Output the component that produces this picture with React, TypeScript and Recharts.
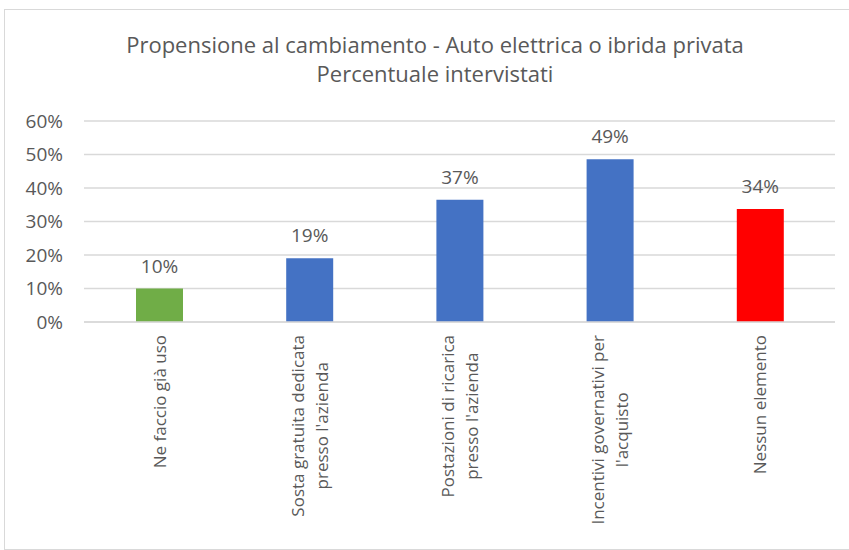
import React from "react";
import { BarChart, Bar, XAxis, YAxis, CartesianGrid, Cell, LabelList } from "recharts";

const categories = [
  "Ne faccio già uso",
  "Sosta gratuita dedicata\npresso l'azienda",
  "Postazioni di ricarica\npresso l'azienda",
  "Incentivi governativi per\nl'acquisto",
  "Nessun elemento",
];
const values = [0.10, 0.19, 0.365, 0.486, 0.337];
const barColors = ["#70AD47", "#4472C4", "#4472C4", "#4472C4", "#FF0000"];
const yTicks = [0, 0.1, 0.2, 0.3, 0.4, 0.5, 0.6];
const titleLines = ["Propensione al cambiamento - Auto elettrica o ibrida privata", "Percentuale intervistati"];

const FONT = "'Open Sans', 'Noto Sans', sans-serif";
const TEXT = "#595959";
const CAT_SIZE = 17;

const data = categories.map((c, i) => ({ name: c, value: values[i] }));

let ctx: CanvasRenderingContext2D | null = null;
function measure(s: string, size: number) {
  if (!ctx) {
    const c = document.createElement("canvas");
    ctx = c.getContext("2d");
  }
  if (!ctx) return s.length * size * 0.5;
  ctx.font = `${size}px 'Open Sans'`;
  return ctx.measureText(s).width;
}

const CatTick = (props: any) => {
  const { x, y, payload } = props;
  const lines = String(payload.value).split("\n");
  const maxLen = Math.max(...lines.map((l) => measure(l, CAT_SIZE)));
  const top = y + 13;
  const lh = 24;
  const n = lines.length;
  return (
    <g transform={`translate(${x},${top}) rotate(-90)`}>
      {lines.map((l, i) => (
        <text
          key={i}
          x={-maxLen / 2}
          y={(i - (n - 1) / 2) * lh}
          textAnchor="middle"
          dominantBaseline="central"
          fill={TEXT}
          fontSize={CAT_SIZE}
          fontFamily={FONT}
        >
          {l}
        </text>
      ))}
    </g>
  );
};

const pct = (v: number) => `${Math.round(v * 100)}%`;

export default function App() {
  return (
    <div style={{ position: "absolute", left: 0, top: 0, width: 849, height: 550, background: "#fff", overflow: "hidden" }}>
      <div
        style={{
          position: "absolute",
          left: 4,
          top: 9,
          width: 860,
          height: 541,
          border: "1px solid #d9d9d9",
          boxSizing: "border-box",
        }}
      />
      <div style={{ position: "absolute", left: 0, top: 0 }}>
        <BarChart
          width={849}
          height={550}
          data={data}
          margin={{ top: 121, right: 14, left: 0, bottom: 8 }}
        >
          <text x={435} y={53} textAnchor="middle" fill={TEXT} fontSize={22} fontFamily={FONT}>
            {titleLines[0]}
          </text>
          <text x={435} y={82} textAnchor="middle" fill={TEXT} fontSize={22} fontFamily={FONT}>
            {titleLines[1]}
          </text>
          <CartesianGrid vertical={false} stroke="#d9d9d9" strokeWidth={1.5} />
          <XAxis
            dataKey="name"
            height={220}
            interval={0}
            tickLine={false}
            axisLine={{ stroke: "#d9d9d9", strokeWidth: 1.5 }}
            tickSize={0}
            tickMargin={0}
            tick={<CatTick />}
          />
          <YAxis
            width={84}
            domain={[0, 0.6]}
            ticks={yTicks}
            tickFormatter={pct}
            tickLine={false}
            axisLine={false}
            tickSize={0}
            tickMargin={21}
            tick={{ fill: TEXT, fontSize: 19, fontFamily: FONT }}
          />
          <Bar dataKey="value" barSize={47} isAnimationActive={false}>
            {data.map((d, i) => (
              <Cell key={i} fill={barColors[i]} />
            ))}
            <LabelList
              dataKey="value"
              position="top"
              offset={16}
              formatter={(v: any) => pct(Number(v))}
              fill={TEXT}
              fontSize={19}
              fontFamily={FONT}
            />
          </Bar>
        </BarChart>
      </div>
    </div>
  );
}
